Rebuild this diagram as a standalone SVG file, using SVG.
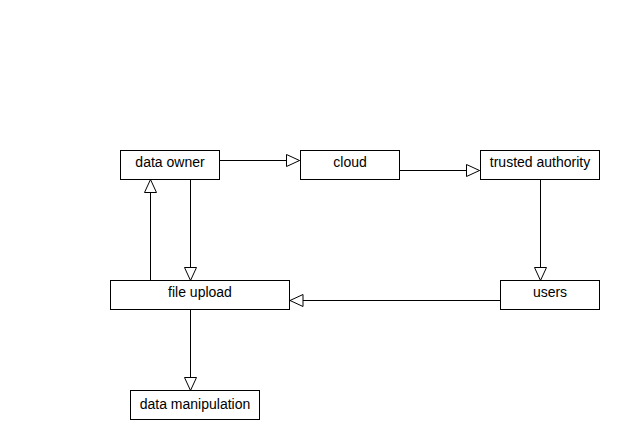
<svg xmlns="http://www.w3.org/2000/svg" width="640" height="440" viewBox="0 0 640 440">
  <style>
    .box { fill: #ffffff; stroke: #000000; stroke-width: 1; }
    .lbl { font-family: "Liberation Sans", Arial, sans-serif; font-size: 14px; fill: #000000; text-anchor: middle; dominant-baseline: central; }
    .edge { fill: none; stroke: #000000; stroke-width: 1; marker-end: url(#open); }
  </style>
  <defs>
    <marker id="open" markerUnits="userSpaceOnUse" markerWidth="16" markerHeight="16" viewBox="-14 -7 16 14" refX="0" refY="0" orient="auto">
      <polygon points="-13,-6 0,0 -13,6" fill="#ffffff" stroke="#000000" stroke-width="1"/>
    </marker>
  </defs>
  <rect width="640" height="440" fill="#ffffff"/>

  <g id="connectors">
    <path class="edge" d="M219.5,160.5 H299.5"/>
    <path class="edge" d="M399.5,170.5 H479.5"/>
    <path class="edge" d="M540.5,179.5 V280.5"/>
    <path class="edge" d="M500.5,300.5 H290"/>
    <path class="edge" d="M190.5,179.5 V280.5"/>
    <path class="edge" d="M150.5,280.5 V179.5"/>
    <path class="edge" d="M190.5,309.5 V390.5"/>
  </g>

  <g id="data-owner">
    <rect class="box" x="120.5" y="150.5" width="99" height="29"/>
    <text class="lbl" x="170" y="162">data owner</text>
  </g>
  <g id="cloud">
    <rect class="box" x="300.5" y="150.5" width="99" height="29"/>
    <text class="lbl" x="350" y="162">cloud</text>
  </g>
  <g id="trusted-authority">
    <rect class="box" x="480.5" y="150.5" width="119" height="29"/>
    <text class="lbl" x="540" y="162">trusted authority</text>
  </g>
  <g id="users">
    <rect class="box" x="500.5" y="280.5" width="99" height="29"/>
    <text class="lbl" x="550" y="292">users</text>
  </g>
  <g id="file-upload">
    <rect class="box" x="110.5" y="280.5" width="179" height="29"/>
    <text class="lbl" x="200" y="292">file upload</text>
  </g>
  <g id="data-manipulation">
    <rect class="box" x="130.5" y="390.5" width="129" height="29"/>
    <text class="lbl" x="195" y="404">data manipulation</text>
  </g>
</svg>
